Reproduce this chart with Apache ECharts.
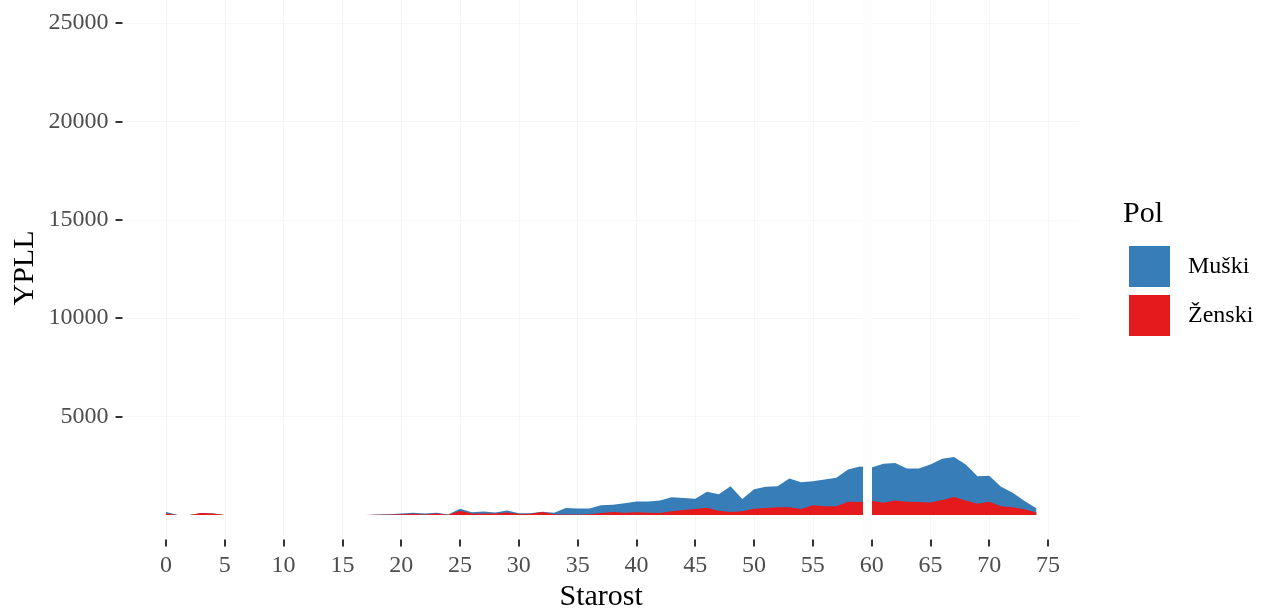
<!DOCTYPE html>
<html>
<head>
<meta charset="utf-8">
<script src="https://cdn.jsdelivr.net/npm/echarts@6/dist/echarts.min.js"></script>
<style>
html,body{margin:0;padding:0;background:#fff;}
#chart{width:1268px;height:610px;}
</style>
</head>
<body>
<div id="chart"></div>
<script>
// Age (Starost) 0..74
const ages = [];
for (let a = 0; a <= 74; a++) ages.push(a);

// YPLL by sex
const muski = [80,0,0,0,0, 0,0,0,0,0, 0,0,0,0,0, 0,0,0,10,15,
  40,50,50,40,10, 100,60,100,50,100, 40,30,20,80,330, 310,290,390,370,490,
  550,570,640,710,610, 530,810,840,1310,625, 990,1080,1070,1450,1370, 1230,1360,1440,1640,1810,
  1690,1990,1900,1690,1700, 1920,2100,2040,1820,1400, 1320,980,740,420,210];
const zenski = [70,0,0,100,80, 0,0,0,0,0, 0,0,0,0,0, 0,0,0,10,25,
  40,60,20,80,10, 220,80,80,80,130, 50,60,150,40,20, 20,40,100,150,110,
  140,120,100,190,250, 300,370,220,150,185, 320,350,390,400,300, 490,440,450,670,660,
  720,620,740,670,660, 640,760,910,740,570, 670,450,390,290,130];

const xTicks = [0,5,10,15,20,25,30,35,40,45,50,55,60,65,70,75];
const yTicks = [5000,10000,15000,20000,25000];
const seriesNames = ['Muški','Ženski'];
const bandAt = 59.6;

const FONT = "'Liberation Serif','DejaVu Serif',serif";
const chart = echarts.init(document.getElementById('chart'));

// stacked: blue area reaches female + male, red area (female) drawn over it
const femalePairs = ages.map((a, i) => [a, zenski[i]]);
const totalPairs = ages.map((a, i) => [a, zenski[i] + muski[i]]);

chart.setOption({
  backgroundColor: '#ffffff',
  animation: false,
  grid: { left: 122.5, right: 188.2, top: -1.6, bottom: 70.4, containLabel: false, outerBoundsMode: 'none' },
  xAxis: {
    type: 'value', min: -3.7, max: 77.7,
    name: 'Starost', nameLocation: 'middle', nameGap: 42,
    nameTextStyle: { fontFamily: FONT, fontSize: 30, color: '#000' },
    axisLine: { show: false, onZero: false },
    axisTick: { show: true, length: 7, customValues: xTicks, lineStyle: { color: '#333', width: 2 } },
    axisLabel: { customValues: xTicks, margin: 14, fontFamily: FONT, fontSize: 24, color: '#4d4d4d', formatter: v => String(v) },
    splitLine: { show: true, lineStyle: { color: '#f6f6f6', width: 1 } }
  },
  yAxis: {
    type: 'value', min: -1250, max: 26250,
    axisLine: { show: false, onZero: false },
    axisTick: { show: true, length: 7, customValues: yTicks, lineStyle: { color: '#333', width: 2 } },
    axisLabel: { customValues: yTicks, margin: 14, fontFamily: FONT, fontSize: 24, color: '#4d4d4d', formatter: v => String(v) },
    splitLine: { show: true, lineStyle: { color: '#f6f6f6', width: 1 } }
  },
  legend: {
    orient: 'vertical', left: 1129, top: 246, padding: 0,
    data: seriesNames,
    icon: 'rect', itemWidth: 41, itemHeight: 41, itemGap: 8,
    textStyle: { fontFamily: FONT, fontSize: 24, color: '#000', padding: [0,0,0,13] }
  },
  graphic: [
    {
      type: 'text', left: 1123, top: 199,
      style: { text: 'Pol', font: "30px 'Liberation Serif', serif", fill: '#000' }
    },
    {
      type: 'text', x: 25, y: 268, rotation: Math.PI / 2,
      style: { text: 'YPLL', font: "30px 'Liberation Serif', serif", fill: '#000', align: 'center', verticalAlign: 'middle' }
    }
  ],
  series: [
    {
      name: 'Muški', type: 'line', data: totalPairs,
      symbol: 'none', lineStyle: { width: 0 }, itemStyle: { color: '#377EB8' },
      areaStyle: { color: '#377EB8', opacity: 1, origin: 0 }, z: 2
    },
    {
      name: 'Ženski', type: 'line', data: femalePairs,
      symbol: 'none', lineStyle: { width: 0 }, itemStyle: { color: '#E41A1C' },
      areaStyle: { color: '#E41A1C', opacity: 1, origin: 0 }, z: 3
    },
    {
      name: 'band', type: 'line', data: [], z: 5, silent: true,
      markLine: {
        silent: true, symbol: 'none', label: { show: false },
        lineStyle: { color: '#fdfdfd', width: 9, type: 'solid' },
        data: [{ xAxis: bandAt }]
      }
    }
  ]
});
</script>
</body>
</html>
